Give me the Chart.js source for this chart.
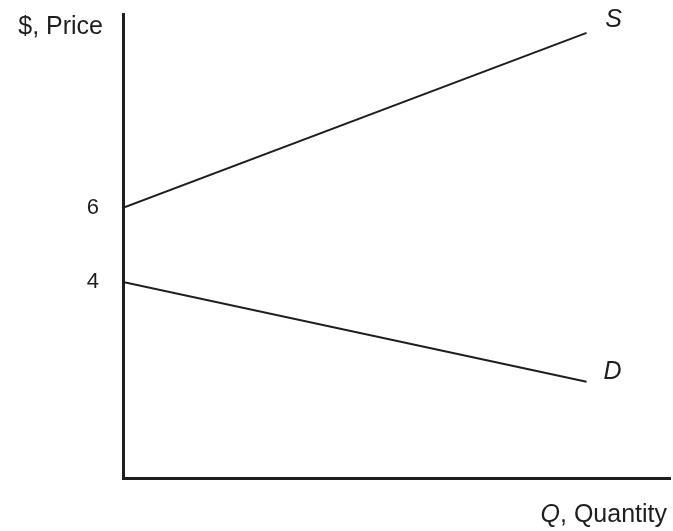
<!DOCTYPE html>
<html>
<head>
<meta charset="utf-8">
<script src="https://cdn.jsdelivr.net/npm/chart.js@4/dist/chart.umd.min.js"></script>
<style>
  body { margin: 0; background: #fff; }
  #wrap { width: 673px; height: 531px; }
</style>
</head>
<body>
<div id="wrap"><canvas id="chart"></canvas></div>
<script>
// quantities where the curves start and stop
const quantities = [0, 10];
// supply and demand prices at those quantities
const supplyPrices = [6, 10.73];
const demandPrices = [4, 1.3];
// price ticks shown on the axis
const priceTicks = [4, 6];

const ink = '#1e1e1e';
const fontFamily = '"Liberation Sans", Arial, sans-serif';

// axis titles and curve names drawn as text on the canvas
const labelPlugin = {
    id: 'labels',
    afterDraw(chart) {
        const ctx = chart.ctx;
        const area = chart.chartArea;
        const x = chart.scales.x, y = chart.scales.y;
        ctx.save();
        ctx.fillStyle = ink;
        ctx.textBaseline = 'middle';

        ctx.font = '25px ' + fontFamily;
        ctx.textAlign = 'right';
        ctx.fillText('$, Price', area.left - 20, area.top + 13);

        // "Q, Quantity" with italic Q
        const rest = ', Quantity';
        const restW = ctx.measureText(rest).width;
        const right = area.right - 3;
        ctx.fillText(rest, right, 515);
        ctx.font = 'italic 25px ' + fontFamily;
        ctx.fillText('Q', right - restW, 515);

        ctx.textAlign = 'center';
        const last = quantities.length - 1;
        ctx.fillText('S', x.getPixelForValue(quantities[last]) + 27, y.getPixelForValue(supplyPrices[last]) - 13);
        ctx.fillText('D', x.getPixelForValue(quantities[last]) + 26, y.getPixelForValue(demandPrices[last]) - 10);
        ctx.restore();
    }
};

new Chart(document.getElementById('chart'), {
    type: 'line',
    data: {
        datasets: [
            {
                label: 'S',
                data: quantities.map((q, i) => ({ x: q, y: supplyPrices[i] })),
                borderColor: ink,
                borderWidth: 2,
                pointRadius: 0,
                tension: 0,
                fill: false
            },
            {
                label: 'D',
                data: quantities.map((q, i) => ({ x: q, y: demandPrices[i] })),
                borderColor: ink,
                borderWidth: 2,
                pointRadius: 0,
                tension: 0,
                fill: false
            }
        ]
    },
    options: {
        responsive: true,
        maintainAspectRatio: false,
        animation: false,
        layout: { padding: { top: 14, right: 3, left: 0, bottom: 0 } },
        plugins: {
            legend: { display: false },
            tooltip: { enabled: false }
        },
        scales: {
            x: {
                type: 'linear',
                min: 0,
                max: 11.8,
                grid: { display: false, drawTicks: false },
                border: { display: true, color: ink, width: 3 },
                ticks: { display: false },
                afterFit: scale => {
                    scale.height = 53;
                    scale.paddingLeft = 0;
                    scale.paddingRight = 0;
                }
            },
            y: {
                type: 'linear',
                min: -1.3,
                max: 11.24,
                grid: { display: false, drawTicks: false },
                border: { display: true, color: ink, width: 3 },
                afterBuildTicks: scale => { scale.ticks = priceTicks.map(v => ({ value: v })); },
                ticks: {
                    color: ink,
                    padding: 24,
                    font: { family: fontFamily, size: 22 }
                },
                afterFit: scale => {
                    scale.width = 123;
                    scale.paddingTop = 0;
                    scale.paddingBottom = 0;
                }
            }
        }
    },
    plugins: [labelPlugin]
});
</script>
</body>
</html>
